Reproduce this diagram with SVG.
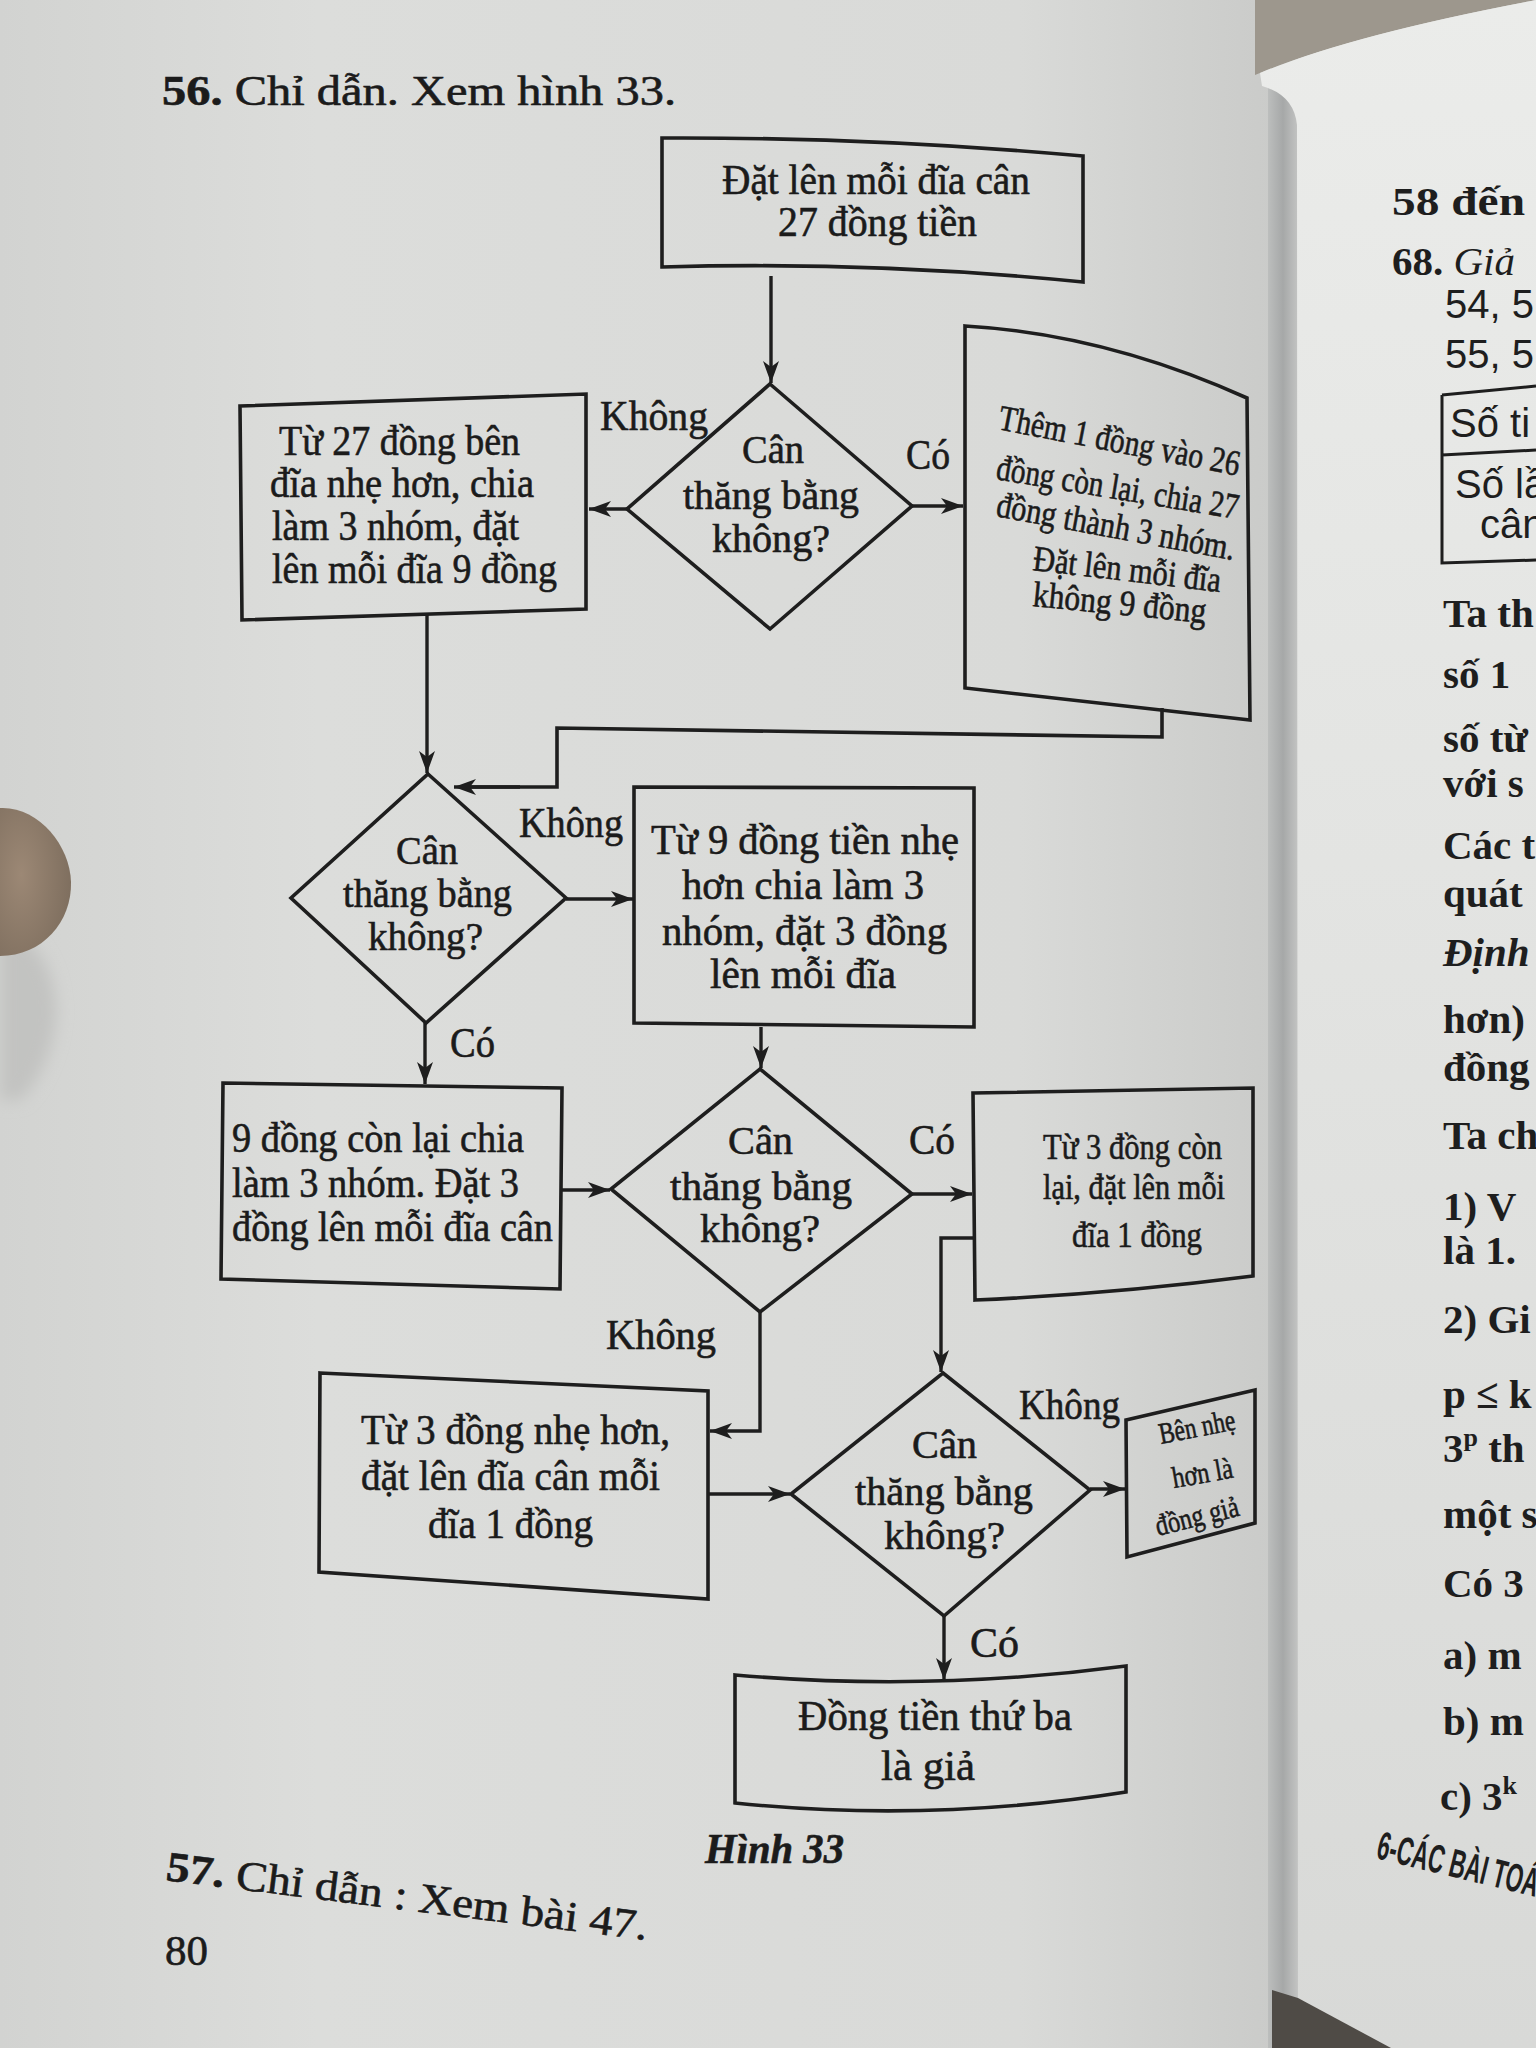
<svg xmlns="http://www.w3.org/2000/svg" width="1536" height="2048" viewBox="0 0 1536 2048">
<defs>
  <linearGradient id="lp" x1="0" y1="0" x2="1" y2="0">
    <stop offset="0" stop-color="#d2d3d1"/>
    <stop offset="0.25" stop-color="#dcdddb"/>
    <stop offset="0.8" stop-color="#d9dad8"/>
    <stop offset="1" stop-color="#cacbc9"/>
  </linearGradient>
  <linearGradient id="gut" x1="0" y1="0" x2="1" y2="0">
    <stop offset="0" stop-color="#bcbebd"/>
    <stop offset="0.5" stop-color="#a6a8a8"/>
    <stop offset="1" stop-color="#c3c4c3"/>
  </linearGradient>
  <linearGradient id="rp" x1="0" y1="0" x2="0" y2="1">
    <stop offset="0" stop-color="#ebecea"/>
    <stop offset="1" stop-color="#d8d9d7"/>
  </linearGradient>
  <radialGradient id="thumb" cx="0.3" cy="0.45" r="0.7">
    <stop offset="0" stop-color="#9c8875"/>
    <stop offset="1" stop-color="#7f6f5f"/>
  </radialGradient>
  <filter id="blur" x="-50%" y="-50%" width="200%" height="200%">
    <feGaussianBlur stdDeviation="8"/>
  </filter>
  <marker id="ah" markerUnits="userSpaceOnUse" markerWidth="26" markerHeight="20" refX="22" refY="9" orient="auto">
    <path d="M0,1 L22,9 L0,17 L6,9 Z" fill="#1e1e1e"/>
  </marker>
  <style>
    .n{fill:none;stroke:#1e1e1e;stroke-width:3.6;stroke-linejoin:miter}
    .c{fill:none;stroke:#1e1e1e;stroke-width:3.4;marker-end:url(#ah)}
    .t{font-family:"Liberation Serif","Times New Roman",serif;font-size:42px;fill:#1b1b1b;stroke:#1b1b1b;stroke-width:0.6}
    .d{font-size:40px}
    .m{font-size:36px}
    .xs{font-size:30px}
    .b{font-weight:bold}
    .rp{font-family:"Liberation Serif","Times New Roman",serif;font-size:41px;font-weight:bold;fill:#1e1e1e}
    .rs{font-family:"Liberation Sans",Arial,sans-serif;font-size:40px;fill:#1e1e1e}
  </style>
</defs>

<!-- background: photo of an open book -->
<g id="background">
  <rect x="0" y="0" width="1536" height="2048" fill="#d8d9d7"/>
  <rect x="0" y="0" width="1274" height="2048" fill="url(#lp)"/>
  <rect x="1268" y="0" width="30" height="2048" fill="url(#gut)"/>
  <path d="M1255,0 L1255,75 Q1350,35 1536,0 Z" fill="#9d978d"/>
  <path d="M1260,73 Q1350,35 1536,0 L1536,2048 L1298,2048 L1297,125 Q1294,95 1262,86 Z" fill="url(#rp)"/>
  <path d="M1272,1990 L1298,1998 L1391,2048 L1272,2048 Z" fill="#4f4b46"/>
  <path d="M0,930 C40,935 60,980 55,1025 C50,1060 35,1085 20,1100 L0,1100 Z" fill="#c2c3c1" filter="url(#blur)"/>
  <path d="M0,808 C38,806 70,845 71,882 C72,922 42,956 0,956 Z" fill="url(#thumb)"/>
</g>

<!-- page texts -->
<g id="page-text">
  <text class="t" x="162" y="105" font-size="46" textLength="514" lengthAdjust="spacingAndGlyphs"><tspan class="b">56.</tspan> Chỉ dẫn. Xem hình 33.</text>
  <text class="t b" x="705" y="1863" font-size="42" font-style="italic" textLength="139" lengthAdjust="spacingAndGlyphs">Hình 33</text>
  <text class="t" x="165" y="1880" font-size="46" transform="rotate(7.1 165 1880)" textLength="485" lengthAdjust="spacingAndGlyphs"><tspan class="b">57.</tspan> Chỉ dẫn : Xem bài 47.</text>
  <text class="t" x="165" y="1965" font-size="44" textLength="43" lengthAdjust="spacingAndGlyphs">80</text>
</g>

<!-- right page (partially visible) -->
<g id="right-page">
  <text class="rp" x="1392" y="215" font-size="40" textLength="133" lengthAdjust="spacingAndGlyphs">58 đến</text>
  <text class="rp" x="1392" y="275" font-size="42">68. <tspan font-style="italic" font-weight="normal">Giả</tspan></text>
  <text class="rs" x="1445" y="318">54, 5</text>
  <text class="rs" x="1445" y="368">55, 5</text>
  <path d="M1442,395 L1536,386 M1442,395 L1442,563 L1536,560 M1442,455 L1536,450" fill="none" stroke="#1e1e1e" stroke-width="3"/>
  <text class="rs" x="1450" y="437" font-size="37">Số ti</text>
  <text class="rs" x="1455" y="498" font-size="37">Số lầ</text>
  <text class="rs" x="1480" y="538" font-size="37">cân</text>
  <text class="rp" x="1443" y="627">Ta th</text>
  <text class="rp" x="1443" y="688">số 1</text>
  <text class="rp" x="1443" y="752">số từ</text>
  <text class="rp" x="1443" y="797">với s</text>
  <text class="rp" x="1443" y="859">Các t</text>
  <text class="rp" x="1443" y="907">quát</text>
  <text class="rp" x="1443" y="966" font-style="italic">Định</text>
  <text class="rp" x="1443" y="1033">hơn)</text>
  <text class="rp" x="1443" y="1081">đồng</text>
  <text class="rp" x="1443" y="1149">Ta ch</text>
  <text class="rp" x="1443" y="1220">1) V</text>
  <text class="rp" x="1443" y="1264">là 1.</text>
  <text class="rp" x="1443" y="1333">2) Gi</text>
  <text class="rp" x="1443" y="1408">p ≤ k</text>
  <text class="rp" x="1443" y="1462">3<tspan dy="-16" font-size="26">p</tspan><tspan dy="16"> th</tspan></text>
  <text class="rp" x="1443" y="1528">một s</text>
  <text class="rp" x="1443" y="1597">Có 3</text>
  <text class="rp" x="1443" y="1669">a) m</text>
  <text class="rp" x="1443" y="1735">b) m</text>
  <text class="rp" x="1440" y="1810">c) 3<tspan dy="-16" font-size="26">k</tspan></text>
  <text class="rs" x="1375" y="1858" font-size="22" font-weight="bold" transform="rotate(13.6 1375 1858)" textLength="165" lengthAdjust="spacingAndGlyphs">6-CÁC BÀI TOÁ</text>
</g>

<!-- connectors -->
<g id="connectors">
  <path class="c" d="M771,276 L771,383"/>
  <path class="c" d="M627,509 L589,509"/>
  <path class="c" d="M912,506 L963,506"/>
  <path class="n" d="M1162,708 L1162,737 L557,728 L557,787 L470,787"/>
  <path class="c" d="M520,787 L454,787"/>
  <path class="c" d="M427,615 L427,773"/>
  <path class="c" d="M566,899 L633,899"/>
  <path class="c" d="M425,1023 L425,1084"/>
  <path class="c" d="M761,1027 L761,1068"/>
  <path class="c" d="M562,1190 L610,1190"/>
  <path class="c" d="M912,1194 L972,1194"/>
  <path class="c" d="M760,1312 L760,1431 L710,1431"/>
  <path class="c" d="M974,1238 L941,1238 L941,1372"/>
  <path class="c" d="M708,1494 L790,1494"/>
  <path class="c" d="M1090,1489 L1125,1489"/>
  <path class="c" d="M944,1616 L944,1680"/>
</g>

<!-- connector labels -->
<g id="labels">
  <text class="t" x="600" y="430" textLength="108" lengthAdjust="spacingAndGlyphs">Không</text>
  <text class="t" x="906" y="469" textLength="44" lengthAdjust="spacingAndGlyphs">Có</text>
  <text class="t" x="519" y="837" textLength="104" lengthAdjust="spacingAndGlyphs">Không</text>
  <text class="t" x="450" y="1057" textLength="45" lengthAdjust="spacingAndGlyphs">Có</text>
  <text class="t" x="909" y="1154" textLength="46" lengthAdjust="spacingAndGlyphs">Có</text>
  <text class="t" x="606" y="1349" textLength="110" lengthAdjust="spacingAndGlyphs">Không</text>
  <text class="t" x="1019" y="1419" textLength="101" lengthAdjust="spacingAndGlyphs">Không</text>
  <text class="t" x="970" y="1657" textLength="49" lengthAdjust="spacingAndGlyphs">Có</text>
</g>

<g id="n-start">
  <path class="n" d="M662,138 Q872,137 1083,156 L1083,282 Q872,261 662,267 Z"/>
  <text class="t" font-size="38" x="722" y="194" textLength="308" lengthAdjust="spacingAndGlyphs">Đặt lên mỗi đĩa cân</text>
  <text class="t" font-size="38" x="778" y="236" textLength="199" lengthAdjust="spacingAndGlyphs">27 đồng tiền</text>
</g>

<g id="n-d1">
  <path class="n" d="M770,384 L912,506 L770,629 L627,509 Z"/>
  <text class="t d" x="742" y="463" textLength="62" lengthAdjust="spacingAndGlyphs">Cân</text>
  <text class="t d" x="683" y="509" textLength="176" lengthAdjust="spacingAndGlyphs">thăng bằng</text>
  <text class="t d" x="712" y="552" textLength="118" lengthAdjust="spacingAndGlyphs">không?</text>
</g>

<g id="n-left27">
  <path class="n" d="M240,406 L586,394 L586,609 L242,620 Z"/>
  <text class="t" x="279" y="455" textLength="241" lengthAdjust="spacingAndGlyphs">Từ 27 đồng bên</text>
  <text class="t" x="270" y="497" textLength="264" lengthAdjust="spacingAndGlyphs">đĩa nhẹ hơn, chia</text>
  <text class="t" x="272" y="540" textLength="247" lengthAdjust="spacingAndGlyphs">làm 3 nhóm, đặt</text>
  <text class="t" x="272" y="583" textLength="285" lengthAdjust="spacingAndGlyphs">lên mỗi đĩa 9 đồng</text>
</g>

<g id="n-them">
  <path class="n" d="M965,326 Q1105,334 1247,398 L1250,720 L965,688 Z"/>
  <text class="t m" x="997" y="429" transform="rotate(11 997 429)" textLength="245" lengthAdjust="spacingAndGlyphs">Thêm 1 đồng vào 26</text>
  <text class="t m" x="995" y="479" transform="rotate(9.4 995 479)" textLength="245" lengthAdjust="spacingAndGlyphs">đồng còn lại, chia 27</text>
  <text class="t m" x="995" y="516" transform="rotate(10.5 995 516)" textLength="242" lengthAdjust="spacingAndGlyphs">đồng thành 3 nhóm.</text>
  <text class="t m" x="1032" y="570" transform="rotate(6.7 1032 570)" textLength="189" lengthAdjust="spacingAndGlyphs">Đặt lên mỗi đĩa</text>
  <text class="t m" x="1032" y="606" transform="rotate(5.6 1032 606)" textLength="174" lengthAdjust="spacingAndGlyphs">không 9 đồng</text>
</g>

<g id="n-d2">
  <path class="n" d="M428,774 L566,898 L426,1023 L291,898 Z"/>
  <text class="t d" x="396" y="864" textLength="62" lengthAdjust="spacingAndGlyphs">Cân</text>
  <text class="t d" x="343" y="907" textLength="169" lengthAdjust="spacingAndGlyphs">thăng bằng</text>
  <text class="t d" x="368" y="950" textLength="115" lengthAdjust="spacingAndGlyphs">không?</text>
</g>

<g id="n-tu9">
  <path class="n" d="M634,787 L974,788 L974,1027 L634,1023 Z"/>
  <text class="t" x="651" y="854" textLength="308" lengthAdjust="spacingAndGlyphs">Từ 9 đồng tiền nhẹ</text>
  <text class="t" x="682" y="899" textLength="242" lengthAdjust="spacingAndGlyphs">hơn chia làm 3</text>
  <text class="t" x="662" y="945" textLength="285" lengthAdjust="spacingAndGlyphs">nhóm, đặt 3 đồng</text>
  <text class="t" x="710" y="988" textLength="186" lengthAdjust="spacingAndGlyphs">lên mỗi đĩa</text>
</g>

<g id="n-9con">
  <path class="n" d="M223,1083 L562,1088 L560,1289 L221,1279 Z"/>
  <text class="t" x="232" y="1152" textLength="292" lengthAdjust="spacingAndGlyphs">9 đồng còn lại chia</text>
  <text class="t" x="232" y="1197" textLength="287" lengthAdjust="spacingAndGlyphs">làm 3 nhóm. Đặt 3</text>
  <text class="t" x="232" y="1241" textLength="321" lengthAdjust="spacingAndGlyphs">đồng lên mỗi đĩa cân</text>
</g>

<g id="n-d3">
  <path class="n" d="M760,1069 L912,1194 L760,1312 L611,1189 Z"/>
  <text class="t d" x="728" y="1154" textLength="65" lengthAdjust="spacingAndGlyphs">Cân</text>
  <text class="t d" x="670" y="1200" textLength="182" lengthAdjust="spacingAndGlyphs">thăng bằng</text>
  <text class="t d" x="700" y="1242" textLength="120" lengthAdjust="spacingAndGlyphs">không?</text>
</g>

<g id="n-tu3con">
  <path class="n" d="M973,1093 L1253,1088 L1253,1276 Q1113,1294 975,1300 Z"/>
  <text class="t m" x="1043" y="1159" textLength="179" lengthAdjust="spacingAndGlyphs">Từ 3 đồng còn</text>
  <text class="t m" x="1043" y="1199" textLength="182" lengthAdjust="spacingAndGlyphs">lại, đặt lên mỗi</text>
  <text class="t m" x="1072" y="1247" textLength="130" lengthAdjust="spacingAndGlyphs">đĩa 1 đồng</text>
</g>

<g id="n-tu3nhe">
  <path class="n" d="M320,1373 L708,1391 L708,1599 L319,1572 Z"/>
  <text class="t" x="361" y="1444" textLength="309" lengthAdjust="spacingAndGlyphs">Từ 3 đồng nhẹ hơn,</text>
  <text class="t" x="361" y="1490" textLength="299" lengthAdjust="spacingAndGlyphs">đặt lên đĩa cân mỗi</text>
  <text class="t" x="428" y="1538" textLength="165" lengthAdjust="spacingAndGlyphs">đĩa 1 đồng</text>
</g>

<g id="n-d4">
  <path class="n" d="M943,1373 L1090,1490 L944,1616 L791,1494 Z"/>
  <text class="t d" x="912" y="1458" textLength="65" lengthAdjust="spacingAndGlyphs">Cân</text>
  <text class="t d" x="855" y="1505" textLength="178" lengthAdjust="spacingAndGlyphs">thăng bằng</text>
  <text class="t d" x="884" y="1549" textLength="121" lengthAdjust="spacingAndGlyphs">không?</text>
</g>

<g id="n-bennhe">
  <path class="n" d="M1126,1420 L1255,1390 L1255,1523 L1127,1557 Z"/>
  <text class="t xs" x="1161" y="1444" transform="rotate(-11 1161 1444)" textLength="77" lengthAdjust="spacingAndGlyphs">Bên nhẹ</text>
  <text class="t xs" x="1174" y="1488" transform="rotate(-10 1174 1488)" textLength="61" lengthAdjust="spacingAndGlyphs">hơn là</text>
  <text class="t xs" x="1158" y="1536" transform="rotate(-14 1158 1536)" textLength="85" lengthAdjust="spacingAndGlyphs">đồng giả</text>
</g>

<g id="n-end">
  <path class="n" d="M735,1675 Q930,1692 1126,1666 L1126,1792 Q930,1823 735,1803 Z"/>
  <text class="t" x="798" y="1730" textLength="274" lengthAdjust="spacingAndGlyphs">Đồng tiền thứ ba</text>
  <text class="t" x="881" y="1780" textLength="94" lengthAdjust="spacingAndGlyphs">là giả</text>
</g>
</svg>
